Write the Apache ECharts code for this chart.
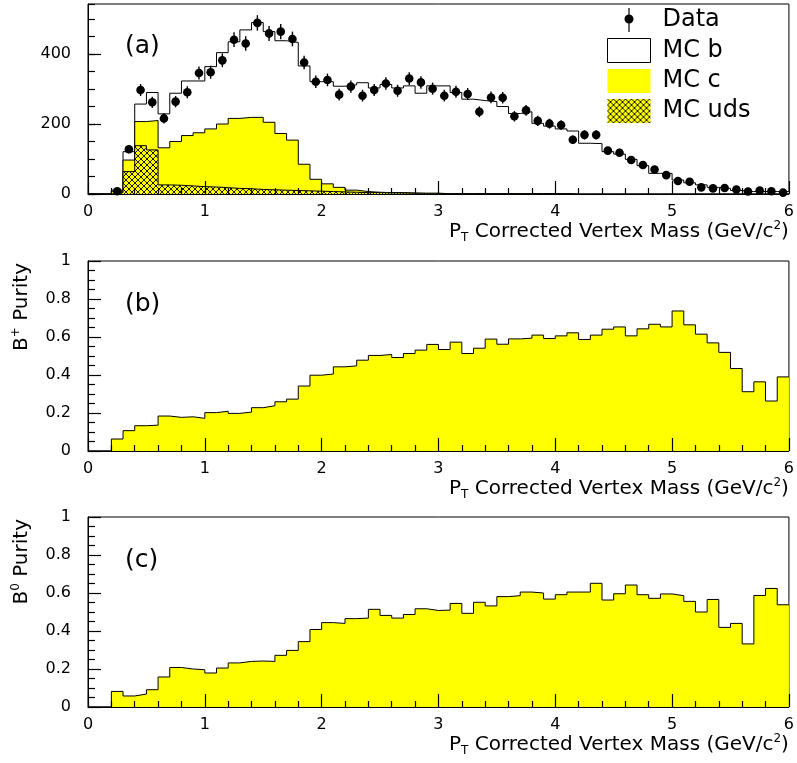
<!DOCTYPE html>
<html><head><meta charset="utf-8">
<script src="https://cdn.jsdelivr.net/npm/echarts/dist/echarts.min.js"></script>
<style>html,body{margin:0;padding:0;background:#fff}#c{width:797px;height:763px}</style>
</head><body><div id="c"></div>
<script>
// ---- data (60 bins of 0.1 GeV/c^2 from 0 to 6) ----
const BIN_WIDTH = 0.1;
const dataCounts = [null,null,8,128,297,262,216,264,291,346,348,382,441,430,489,459,464,443,376,321,
  326,284,307,281,297,316,295,330,319,301,281,292,286,235,276,275,222,239,209,201,
  197,155,169,169,124,118,97,83,70,54,37,35,19,16,17,13,7,10,8,4];
const mcB = [0,0,3,24,50,80,97,138,156,148,178,204,219,250,271,259,265,279,281,279,
  292,289,301,311,298,309,299,306,286,307,308,289,270,266,263,249,229,234,201,193,
  185,180,145,144,121,114,99,81,59,59,40,32,26,19,16,10,7,7,7,7];
const mcC = [0,0,4,33,69,84,106,125,144,154,166,182,200,204,206,193,162,144,76,34,
  22,13,6,3,1,1,1,1,0,0,0,0,0,0,0,0,0,0,0,0,
  0,0,0,0,0,0,0,0,0,0,0,0,0,0,0,0,0,0,0,0];
const mcUds = [0,0,4,64,138,126,26,25,23,21,20,18,16,15,13,12,11,10,9,8,
  7,6,5,4,4,3,3,2,2,2,1,1,1,1,1,1,1,1,1,1,
  1,0,0,0,0,0,0,0,0,0,0,0,0,0,0,0,0,0,0,0];
const bPlusPurity = [0,0,0.063,0.107,0.133,0.136,0.184,0.177,0.180,0.172,
  0.202,0.209,0.198,0.205,0.228,0.238,0.259,0.273,0.342,0.399,
  0.405,0.443,0.448,0.478,0.503,0.508,0.492,0.513,0.531,0.561,
  0.534,0.573,0.513,0.541,0.589,0.562,0.590,0.594,0.610,0.592,
  0.606,0.622,0.587,0.610,0.641,0.653,0.606,0.643,0.667,0.653,
  0.737,0.664,0.615,0.569,0.519,0.434,0.312,0.364,0.263,0.390];
const bZeroPurity = [0,0,0.082,0.058,0.068,0.091,0.158,0.208,0.200,0.196,
  0.179,0.205,0.232,0.240,0.242,0.240,0.272,0.298,0.344,0.408,
  0.444,0.440,0.465,0.468,0.514,0.482,0.468,0.487,0.517,0.508,
  0.510,0.545,0.493,0.551,0.532,0.581,0.586,0.605,0.600,0.568,
  0.591,0.605,0.605,0.651,0.563,0.596,0.642,0.591,0.572,0.595,
  0.586,0.556,0.500,0.566,0.419,0.440,0.332,0.587,0.624,0.538];

// ---- helpers ----
const FONT = 'DejaVu Sans';
const YELLOW = '#ffff00';
const TICK_COLOR = '#000';
const TICK_WIDTH = 1.2;
function edge(k){ return Math.round(k * BIN_WIDTH * 100) / 100; }
function stepData(vals){
  const d = vals.map((v, k) => [edge(k), v]);
  d.push([edge(vals.length), vals[vals.length - 1]]);
  return d;
}
const udsTop = mcUds.slice();
const cTop = mcC.map((v, k) => v + mcUds[k]);
const bTop = mcB.map((v, k) => v + cTop[k]);
const points = [];
dataCounts.forEach((v, k) => { if (v != null) points.push([edge(k) + BIN_WIDTH / 2, v, Math.sqrt(v)]); });

// cross-hatch pattern for MC uds
const pc = document.createElement('canvas');
pc.width = 6; pc.height = 6;
const g = pc.getContext('2d');
g.fillStyle = YELLOW; g.fillRect(0, 0, 6, 6);
g.strokeStyle = '#000'; g.lineWidth = 0.9;
g.beginPath(); g.moveTo(0, 0); g.lineTo(6, 6); g.moveTo(6, 0); g.lineTo(0, 6); g.stroke();
const hatch = { image: pc, repeat: 'repeat' };

const titleName = '{n|P}{s|T}{n| Corrected Vertex Mass (GeV/c}{p|2}{n|)}';
const titleRich = {
  n: { fontSize: 20, fontFamily: FONT, color: '#000', lineHeight: 24 },
  s: { fontSize: 12, fontFamily: FONT, color: '#000', lineHeight: 24, verticalAlign: 'bottom' },
  p: { fontSize: 12, fontFamily: FONT, color: '#000', lineHeight: 24, verticalAlign: 'top' }
};
const yNameRich = {
  n: { fontSize: 20, fontFamily: FONT, color: '#000', lineHeight: 24 },
  p: { fontSize: 12, fontFamily: FONT, color: '#000', lineHeight: 24, verticalAlign: 'top' }
};
function xAxisFor(gi){
  return {
    type: 'value', gridIndex: gi, min: 0, max: 6, interval: 1, zlevel: 1, z: 20,
    axisLine: { show: true, lineStyle: { color: '#000' } },
    axisTick: { show: true, inside: true, length: 13, lineStyle: { color: TICK_COLOR, width: TICK_WIDTH } },
    minorTick: { show: true, splitNumber: 5, length: 6, lineStyle: { color: TICK_COLOR, width: TICK_WIDTH } },
    splitLine: { show: false }, minorSplitLine: { show: false },
    axisLabel: { color: '#000', fontSize: 16, fontFamily: FONT, margin: 10 },
    name: titleName, nameLocation: 'end', nameGap: 0,
    nameTextStyle: { align: 'right', verticalAlign: 'top', padding: [26, 0, 0, 0], rich: titleRich }
  };
}
function purityY(gi, label){
  return {
    type: 'value', gridIndex: gi, min: 0, max: 1, interval: 0.2, zlevel: 1, z: 20,
    axisLine: { show: true, lineStyle: { color: '#000' } },
    axisTick: { show: true, inside: true, length: 13, lineStyle: { color: TICK_COLOR, width: TICK_WIDTH } },
    minorTick: { show: true, splitNumber: 4, length: 7, lineStyle: { color: TICK_COLOR, width: TICK_WIDTH } },
    splitLine: { show: false }, minorSplitLine: { show: false },
    axisLabel: { color: '#000', fontSize: 16, fontFamily: FONT, margin: 17 },
    name: label, nameLocation: 'end', nameRotate: 90, nameGap: -2,
    nameTextStyle: { align: 'right', verticalAlign: 'bottom', padding: [0, 0, 54, 0], rich: yNameRich }
  };
}
function histLine(name, vals, fill, xi, yi, z){
  return {
    name, type: 'line', step: 'end', data: stepData(vals), xAxisIndex: xi, yAxisIndex: yi,
    symbol: 'none', z, silent: true,
    lineStyle: { color: '#000', width: 1 },
    itemStyle: { color: '#000' },
    areaStyle: { color: fill, opacity: 1 }
  };
}
function panelLabel(text, top){
  return { text, left: 125, top, padding: 0,
    textStyle: { fontSize: 25, fontWeight: 'normal', fontFamily: FONT, color: '#000', lineHeight: 26 } };
}
const gridCommon = { left: 88, right: 8, height: 190, show: true, borderColor: '#000', borderWidth: 1 };

const chart = echarts.init(document.getElementById('c'), null, { renderer: 'canvas' });
chart.setOption({
  animation: false,
  title: [panelLabel('(a)', 33), panelLabel('(b)', 291), panelLabel('(c)', 547)],
  grid: [
    Object.assign({ top: 4 }, gridCommon),
    Object.assign({ top: 261 }, gridCommon),
    Object.assign({ top: 517 }, gridCommon)
  ],
  xAxis: [xAxisFor(0), xAxisFor(1), xAxisFor(2)],
  yAxis: [
    { type: 'value', gridIndex: 0, min: 0, max: 543, interval: 200, zlevel: 1, z: 20,
      axisLine: { show: true, lineStyle: { color: '#000' } },
      axisTick: { show: true, inside: true, length: 13, lineStyle: { color: TICK_COLOR, width: TICK_WIDTH } },
      splitLine: { show: false },
      axisLabel: { color: '#000', fontSize: 16, fontFamily: FONT, margin: 17, showMaxLabel: false } },
    { type: 'value', gridIndex: 0, min: 0, max: 543, interval: 50, position: 'left', zlevel: 1, z: 20,
      axisLine: { show: false },
      axisTick: { show: true, inside: true, length: 7, lineStyle: { color: TICK_COLOR, width: TICK_WIDTH } },
      splitLine: { show: false }, axisLabel: { show: false } },
    purityY(1, '{n|B}{p|+}{n| Purity}'),
    purityY(2, '{n|B}{p|0}{n| Purity}')
  ],
  legend: {
    orient: 'vertical', left: 607, top: 8, padding: 0,
    itemWidth: 43, itemHeight: 24, itemGap: 6, selectedMode: false,
    textStyle: { fontSize: 24, fontFamily: FONT, color: '#000', lineHeight: 24, padding: [0, 0, 0, 7] },
    data: [
      { name: 'Data', icon: 'path://M16.5,11a4.5,4.5 0 1,1 9,0a4.5,4.5 0 1,1 -9,0Z M20.4,0h1.2v24h-1.2Z',
        itemStyle: { color: '#000', borderWidth: 0 } },
      { name: 'MC b', icon: 'rect', itemStyle: { color: '#fff', borderColor: '#000', borderWidth: 1 } },
      { name: 'MC c', icon: 'rect', itemStyle: { color: YELLOW, borderWidth: 0 } },
      { name: 'MC uds', icon: 'rect', itemStyle: { color: hatch, borderWidth: 0 } }
    ]
  },
  series: [
    histLine('MC b', bTop, '#fff', 0, 0, 2),
    histLine('MC c', cTop, YELLOW, 0, 0, 3),
    histLine('MC uds', udsTop, hatch, 0, 0, 4),
    {
      name: 'Data', type: 'custom', coordinateSystem: 'cartesian2d', xAxisIndex: 0, yAxisIndex: 0,
      z: 10, silent: true, data: points, encode: { x: 0, y: 1 },
      renderItem: function (params, api) {
        const x = api.value(0), y = api.value(1), e = api.value(2);
        const p = api.coord([x, y]);
        const hi = api.coord([x, y + e]);
        const lo = api.coord([x, Math.max(0, y - e)]);
        return { type: 'group', children: [
          { type: 'line', shape: { x1: p[0], y1: hi[1], x2: p[0], y2: lo[1] }, style: { stroke: '#000', lineWidth: 1.4 } },
          { type: 'circle', shape: { cx: p[0], cy: p[1], r: 4.3 }, style: { fill: '#000' } }
        ] };
      }
    },
    histLine('B+ purity', bPlusPurity, YELLOW, 1, 2, 3),
    histLine('B0 purity', bZeroPurity, YELLOW, 2, 3, 3)
  ]
});
</script>
</body></html>
